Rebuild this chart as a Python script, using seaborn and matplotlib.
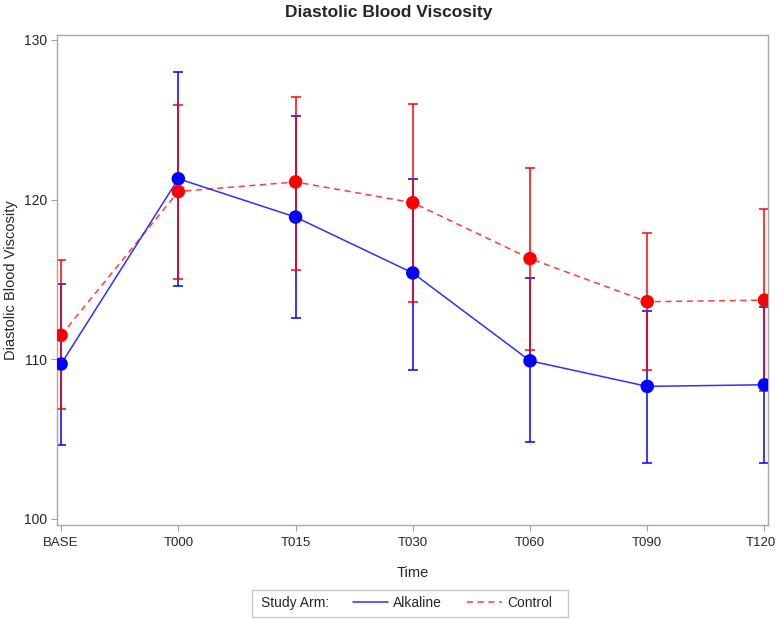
import pandas as pd
import matplotlib
matplotlib.use("Agg")
import matplotlib.pyplot as plt
import matplotlib.transforms as mtransforms
from matplotlib.lines import Line2D
from matplotlib.patches import Rectangle
import seaborn as sns

sns.set_style("white")
plt.rcParams["font.family"] = ["Liberation Sans", "DejaVu Sans"]

# ----------------------------------------------------------
# DATA
# ----------------------------------------------------------
times = ["BASE", "T000", "T015", "T030", "T060", "T090", "T120"]

alk_mean = [109.7, 121.3, 118.9, 115.4, 109.9, 108.3, 108.4]
alk_low = [104.6, 114.6, 112.6, 109.3, 104.8, 103.5, 103.5]
alk_high = [114.7, 128.0, 125.2, 121.3, 115.1, 113.0, 113.3]

ctl_mean = [111.5, 120.5, 121.1, 119.8, 116.3, 113.6, 113.7]
ctl_low = [106.9, 115.0, 115.6, 113.6, 110.6, 109.3, 108.0]
ctl_high = [116.2, 125.9, 126.4, 126.0, 122.0, 117.9, 119.4]

arms = ["Alkaline", "Control"]
colors = {"Alkaline": "#0000ff", "Control": "#ff0000"}

df = pd.concat([
    pd.DataFrame({"Time": times, "mean": alk_mean, "low": alk_low,
                  "high": alk_high, "arm": "Alkaline"}),
    pd.DataFrame({"Time": times, "mean": ctl_mean, "low": ctl_low,
                  "high": ctl_high, "arm": "Control"}),
], ignore_index=True)

# ----------------------------------------------------------
# PLOT
# ----------------------------------------------------------
fig = plt.figure(figsize=(7.78, 6.19), dpi=100)
ax = fig.add_axes([57 / 778, 1 - 525 / 619, (768 - 57) / 778, (525 - 35) / 619])

# error bars first (blue, then red on top)
for arm in arms:
    sub = df[df["arm"] == arm]
    ax.errorbar(sub["Time"], sub["mean"],
                yerr=[sub["mean"] - sub["low"], sub["high"] - sub["mean"]],
                fmt="none", ecolor=colors[arm], elinewidth=1.1,
                capsize=3.8, capthick=1.1, zorder=2)

# connecting lines
sns.lineplot(data=df[df["arm"] == "Control"], x="Time", y="mean",
             color="#ff3b3b", linestyle=(0, (4, 3)), linewidth=1.1,
             ax=ax, zorder=3, legend=False)
sns.lineplot(data=df[df["arm"] == "Alkaline"], x="Time", y="mean",
             color="#2f2fff", linewidth=1.1, ax=ax, zorder=3, legend=False)

# markers
sns.scatterplot(data=df, x="Time", y="mean", hue="arm", palette=colors,
                hue_order=["Control", "Alkaline"], s=95, edgecolor="none",
                ax=ax, zorder=4, legend=False)

ax.set_xlim(-0.035, 6.03)
ax.set_ylim(99.62, 130.3)
ax.set_yticks([100, 110, 120, 130])
ax.set_xlabel("Time", fontsize=10.5, labelpad=12)
ax.set_ylabel("Diastolic Blood Viscosity", fontsize=10.5, labelpad=4)
ax.tick_params(axis="both", labelsize=9.5, direction="out", length=4,
               width=0.8, color="#a0a0a0", pad=3)
ax.tick_params(axis="x", bottom=True, pad=5)
ax.tick_params(axis="y", left=True, labelsize=10)
for sp in ax.spines.values():
    sp.set_color("#a8a8a8")
    sp.set_linewidth(1.0)

# keep the last tick label inside the figure
last = ax.get_xticklabels()[-1]
last.set_transform(last.get_transform() +
                   mtransforms.ScaledTranslation(-4 / 100, 0, fig.dpi_scale_trans))

fig.suptitle("Diastolic Blood Viscosity", fontsize=12.5, fontweight="bold",
             x=0.5, y=1 - 5 / 619, va="top")

# legend box at the bottom
fig.patches.append(Rectangle((252 / 778, 1 - 617 / 619), (568 - 252) / 778,
                             27 / 619, transform=fig.transFigure,
                             facecolor="white", edgecolor="#c8c8c8",
                             linewidth=1.0))
fig.text(261 / 778, 1 - 603 / 619, "Study Arm:", fontsize=10,
         va="center", ha="left")
handles = [Line2D([], [], color="#2f2fff", linewidth=1.1),
           Line2D([], [], color="#ff3b3b", linewidth=1.1, linestyle=(0, (4, 3)))]
fig.legend(handles, arms, loc="center left", ncol=2, frameon=False,
           bbox_to_anchor=(353 / 778, 1 - 603 / 619), borderpad=0,
           borderaxespad=0, handlelength=2.5, handletextpad=0.4,
           columnspacing=1.8, fontsize=10)

fig.savefig("out.png", dpi=100)
